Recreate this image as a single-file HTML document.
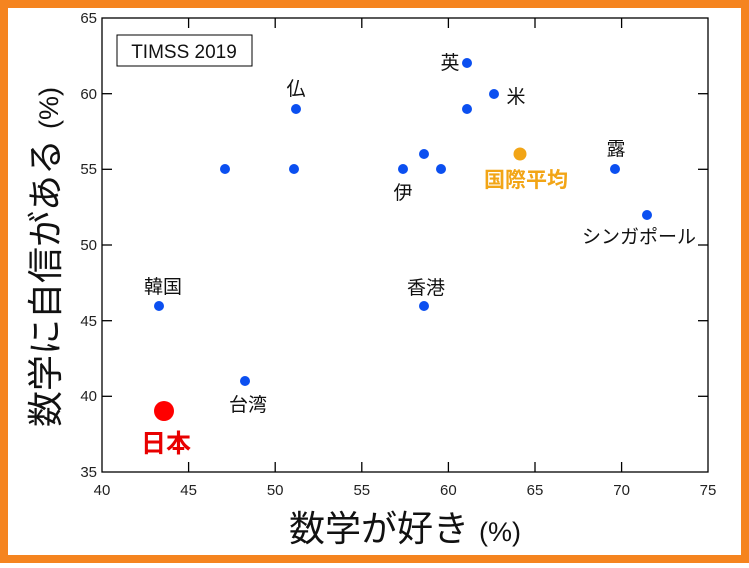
<!DOCTYPE html>
<html><head><meta charset="utf-8"><style>
body{margin:0;background:#fff}
</style></head><body>
<svg width="749" height="563" xmlns="http://www.w3.org/2000/svg" font-family="Liberation Sans, Noto Sans CJK JP, sans-serif">
<rect x="0" y="0" width="749" height="563" fill="#f5841f"/>
<rect x="8" y="8" width="733" height="547" fill="#fff"/>
<rect x="102" y="18" width="606" height="454" fill="none" stroke="#000" stroke-width="1.3"/>
<g stroke="#000" stroke-width="1.3">
<line x1="188.6" y1="472" x2="188.6" y2="462"/><line x1="275.2" y1="472" x2="275.2" y2="462"/><line x1="361.8" y1="472" x2="361.8" y2="462"/><line x1="448.4" y1="472" x2="448.4" y2="462"/><line x1="535" y1="472" x2="535" y2="462"/><line x1="621.6" y1="472" x2="621.6" y2="462"/>
<line x1="188.6" y1="18" x2="188.6" y2="28"/><line x1="275.2" y1="18" x2="275.2" y2="28"/><line x1="361.8" y1="18" x2="361.8" y2="28"/><line x1="448.4" y1="18" x2="448.4" y2="28"/><line x1="535" y1="18" x2="535" y2="28"/><line x1="621.6" y1="18" x2="621.6" y2="28"/>
<line x1="102" y1="396.3" x2="112" y2="396.3"/><line x1="102" y1="320.7" x2="112" y2="320.7"/><line x1="102" y1="245" x2="112" y2="245"/><line x1="102" y1="169.3" x2="112" y2="169.3"/><line x1="102" y1="93.7" x2="112" y2="93.7"/>
<line x1="708" y1="396.3" x2="698" y2="396.3"/><line x1="708" y1="320.7" x2="698" y2="320.7"/><line x1="708" y1="245" x2="698" y2="245"/><line x1="708" y1="169.3" x2="698" y2="169.3"/><line x1="708" y1="93.7" x2="698" y2="93.7"/>
</g>
<g font-size="15" fill="#222" text-anchor="middle">
<text x="102" y="495">40</text><text x="188.6" y="495">45</text><text x="275.2" y="495">50</text><text x="361.8" y="495">55</text><text x="448.4" y="495">60</text><text x="535" y="495">65</text><text x="621.6" y="495">70</text><text x="708" y="495">75</text>
</g>
<g font-size="15" fill="#222" text-anchor="end">
<text x="97" y="477">35</text><text x="97" y="401">40</text><text x="97" y="326">45</text><text x="97" y="250">50</text><text x="97" y="174">55</text><text x="97" y="99">60</text><text x="97" y="23">65</text>
</g>
<rect x="117" y="35" width="135" height="31" fill="#fff" stroke="#000" stroke-width="1"/>
<text x="184" y="58" font-size="19" text-anchor="middle" fill="#111">TIMSS 2019</text>
<text x="405" y="541" font-size="36" text-anchor="middle" fill="#111">数学が好き <tspan font-size="27">(%)</tspan></text>
<text transform="translate(58,257) rotate(-90)" font-size="36" text-anchor="middle" fill="#111">数学に自信がある <tspan font-size="27">(%)</tspan></text>
<g fill="#0b4ff0">
<circle cx="467" cy="63" r="5"/><circle cx="494" cy="94" r="5"/><circle cx="296" cy="109" r="5"/><circle cx="467" cy="109" r="5"/>
<circle cx="225" cy="169" r="5"/><circle cx="294" cy="169" r="5"/><circle cx="403" cy="169" r="5"/><circle cx="424" cy="154" r="5"/><circle cx="441" cy="169" r="5"/><circle cx="615" cy="169" r="5"/><circle cx="647" cy="215" r="5"/><circle cx="159" cy="306" r="5"/><circle cx="424" cy="306" r="5"/><circle cx="245" cy="381" r="5"/>
</g>
<circle cx="520" cy="154" r="6.5" fill="#f2a516"/>
<circle cx="164" cy="411" r="10" fill="#f00"/>
<g font-size="19" fill="#111" text-anchor="middle">
<text x="450" y="69">英</text><text x="516" y="103">米</text><text x="296" y="95">仏</text><text x="403" y="199">伊</text><text x="616" y="155">露</text><text x="639" y="243">シンガポール</text><text x="163" y="293">韓国</text><text x="426" y="294">香港</text><text x="248" y="411">台湾</text>
</g>
<text x="526" y="187" font-size="21" font-weight="bold" fill="#f2a516" text-anchor="middle">国際平均</text>
<text x="166" y="452" font-size="25" font-weight="bold" fill="#e80000" text-anchor="middle">日本</text>
</svg>
</body></html>
